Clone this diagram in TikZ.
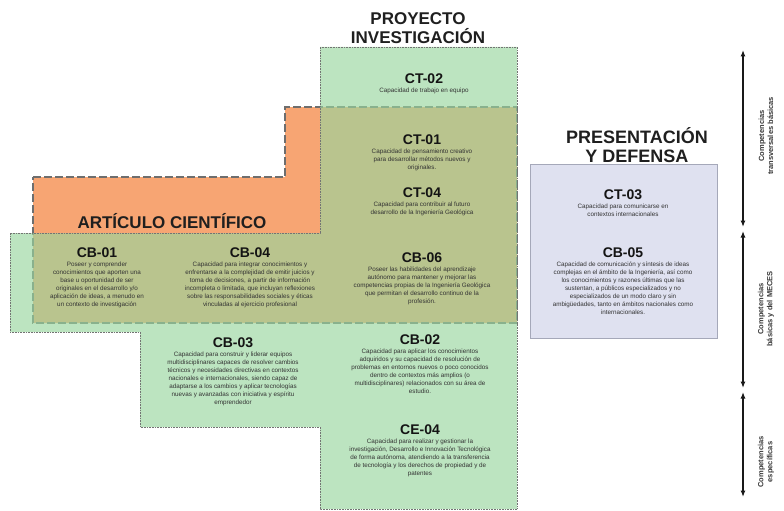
\documentclass[tikz,border=0pt]{standalone}
\usepackage{fontspec}
\setmainfont{Liberation Sans}
\usetikzlibrary{arrows.meta}
\definecolor{grn}{RGB}{152,213,158}
\definecolor{org}{RGB}{247,165,115}
\definecolor{lav}{RGB}{223,225,240}
\definecolor{lavline}{RGB}{165,168,185}
\definecolor{dashgray}{RGB}{110,110,110}
\begin{document}
\begin{tikzpicture}[x=1pt,y=-1pt,
  titlet/.style={font=\fontsize{17}{19.5}\selectfont\bfseries, text=black!88, align=center, inner sep=0},
  codet/.style={font=\fontsize{14}{16}\selectfont\bfseries, text=black!92, inner sep=0},
  desct/.style={font=\fontsize{6.3}{7.9}\selectfont, text=black!80, align=center, inner sep=0, anchor=north},
  axislbl/.style={font=\fontsize{7.5}{9}\selectfont\bfseries, text=black!78, align=center, rotate=90, inner sep=0},
  bothtips/.style={{Latex[length=6.5pt,width=5pt]}-{Latex[length=6.5pt,width=5pt]}, line width=1.2pt, black!90},
  orgregion/.style={fill=org, draw=dashgray, line width=2.6pt, dash pattern=on 8pt off 3pt},
  grnregion/.style={fill=grn, fill opacity=0.65, draw=black!55, line width=0.6pt, densely dotted},
  lavbox/.style={fill=lav, draw=lavline, line width=0.6pt}
]
\useasboundingbox (0,0) rectangle (784,511);

% orange region (article)
\draw[orgregion] (33,177) -- (285,177) -- (285,107) -- (517,107) -- (517,323) -- (33,323) -- cycle;
% green region (project)
\draw[grnregion] (320,47) -- (517,47) -- (517,509) -- (320,509) -- (320,427) -- (140,427) -- (140,332) -- (10,332) -- (10,233) -- (320,233) -- cycle;
% presentation box
\draw[lavbox] (530,164) rectangle (717,338);

% titles
\node[titlet] (tproy) at (418,28) {PROYECTO\\INVESTIGACIÓN};
\node[titlet] (tart) at (172,221) {ARTÍCULO CIENTÍFICO};
\node[titlet, font=\fontsize{18}{18.5}\selectfont\bfseries] (tpres) at (637,145) {PRESENTACIÓN\\Y DEFENSA};

% competences
\node[codet] (ct02) at (424,79) {CT-02};
\node[desct] (dct02) at ([yshift=-4pt]ct02.south) {Capacidad de trabajo en equipo};

\node[codet] (ct01) at (422,140) {CT-01};
\node[desct] (dct01) at ([yshift=-4pt]ct01.south) {Capacidad de pensamiento creativo\\para desarrollar métodos nuevos y\\originales.};

\node[codet] (ct04) at (422,193) {CT-04};
\node[desct] (dct04) at ([yshift=-4pt]ct04.south) {Capacidad para contribuir al futuro\\desarrollo de la Ingeniería Geológica};

\node[codet] (cb06) at (422,258) {CB-06};
\node[desct] (dcb06) at ([yshift=-4pt]cb06.south) {Poseer las habilidades del aprendizaje\\autónomo para mantener y mejorar las\\competencias propias de la Ingeniería Geológica\\que permitan el desarrollo continuo de la\\profesión.};

\node[codet] (cb01) at (97,253) {CB-01};
\node[desct] (dcb01) at ([yshift=-4pt]cb01.south) {Poseer y comprender\\conocimientos que aporten una\\base u oportunidad de ser\\originales en el desarrollo y/o\\aplicación de ideas, a menudo en\\un contexto de investigación};

\node[codet] (cb04) at (250,253) {CB-04};
\node[desct] (dcb04) at ([yshift=-4pt]cb04.south) {Capacidad para integrar conocimientos y\\enfrentarse a la complejidad de emitir juicios y\\toma de decisiones, a partir de información\\incompleta o limitada, que incluyan reflexiones\\sobre las responsabilidades sociales y éticas\\vinculadas al ejercicio profesional};

\node[codet] (cb03) at (233,343) {CB-03};
\node[desct] (dcb03) at ([yshift=-4pt]cb03.south) {Capacidad para construir y liderar equipos\\multidisciplinares capaces de resolver cambios\\técnicos y necesidades directivas en contextos\\nacionales e internacionales, siendo capaz de\\adaptarse a los cambios y aplicar tecnologías\\nuevas y avanzadas con iniciativa y espíritu\\emprendedor};

\node[codet] (cb02) at (420,340) {CB-02};
\node[desct] (dcb02) at ([yshift=-4pt]cb02.south) {Capacidad para aplicar los conocimientos\\adquiridos y su capacidad de resolución de\\problemas en entornos nuevos o poco conocidos\\dentro de contextos más amplios (o\\multidisciplinares) relacionados con su área de\\estudio.};

\node[codet] (ce04) at (420,430) {CE-04};
\node[desct] (dce04) at ([yshift=-4pt]ce04.south) {Capacidad para realizar y gestionar la\\investigación, Desarrollo e Innovación Tecnológica\\de forma autónoma, atendiendo a la transferencia\\de tecnología y los derechos de propiedad y de\\patentes};

\node[codet] (ct03) at (623,195) {CT-03};
\node[desct] (dct03) at ([yshift=-4pt]ct03.south) {Capacidad para comunicarse en\\contextos internacionales};

\node[codet] (cb05) at (623,253) {CB-05};
\node[desct] (dcb05) at ([yshift=-4pt]cb05.south) {Capacidad de comunicación y síntesis de ideas\\complejas en el ámbito de la Ingeniería, así como\\los conocimientos y razones últimas que las\\sustentan, a públicos especializados y no\\especializados de un modo claro y sin\\ambigüedades, tanto en ámbitos nacionales como\\internacionales.};

% axis
\coordinate (a1t) at (743,50);
\coordinate (a1b) at (743,227);
\coordinate (a2t) at (743,231);
\coordinate (a2b) at (743,388);
\coordinate (a3t) at (743,392);
\coordinate (a3b) at (743,497);
\draw[bothtips] (a1t) -- (a1b);
\draw[bothtips] (a2t) -- (a2b);
\draw[bothtips] (a3t) -- (a3b);
\node[axislbl] (l1) at (766,136) {Competencias\\transversales básicas};
\node[axislbl] (l2) at (766,309) {Competencias\\básicas y del MECES};
\node[axislbl] (l3) at (766,462) {Competencias\\específicas};
\end{tikzpicture}
\end{document}
